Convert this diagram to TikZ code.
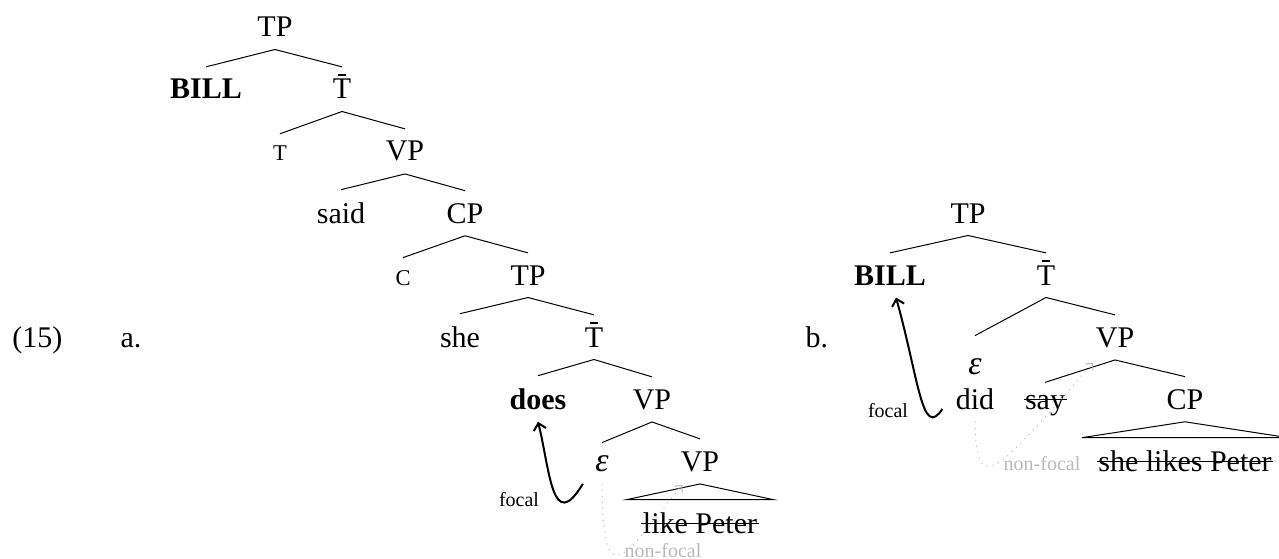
\documentclass[tikz,border=0pt]{standalone}
\usepackage{fontspec}
\setmainfont{Liberation Serif}
\usetikzlibrary{calc,arrows.meta}
\newcommand\Tbarsym{\leavevmode\hbox{\ooalign{T\cr\hidewidth\raisebox{0.78em}{\rule{0.27em}{0.045em}}\hidewidth\cr}}}
\newcommand\smc[1]{{\fontsize{9}{10}\selectfont #1}}
\newcommand\epsym{{\fontsize{13.5}{15}\selectfont\itshape ε}}
\begin{document}
\begin{tikzpicture}[x=0.4pt,y=-0.4pt,
  tn/.style={anchor=base, inner xsep=0pt, inner ysep=4.8pt, font=\fontsize{12}{14.4}\selectfont},
  treeline/.style={line width=0.4pt},
  strike/.style={line width=0.4pt},
  focalarrow/.style={line width=0.8pt, -{Straight Barb[length=2.6pt,width=5pt]}},
  nfarrow/.style={gray!55, line width=0.4pt, dotted, -{Straight Barb[length=2pt,width=4pt,line width=0.4pt]}},
  lbl/.style={anchor=base, inner sep=0pt, font=\fontsize{8}{9.6}\selectfont},
  nf/.style={lbl, text=gray!55},
  num/.style={anchor=base west, inner sep=0pt, font=\fontsize{12}{14.4}\selectfont}]
\useasboundingbox (0,0) rectangle (1279,559);

% labels
\node[num] (ex) at (12,347) {(15)};
\node[num] (la) at (120,347) {a.};
\node[num] (lb) at (805,347) {b.};

% left tree
\node[tn] (TPa) at (275,37) {TP};
\node[tn] (BILLa) at (206,99) {\textbf{BILL}};
\node[tn] (Tba) at (342,99) {\Tbarsym};
\node[tn] (Ta) at (280,161) {\smc{T}};
\node[tn] (VPa) at (405,161) {VP};
\node[tn] (said) at (341,223) {said};
\node[tn] (CPa) at (465,223) {CP};
\node[tn] (Ca) at (403,285) {\smc{C}};
\node[tn] (TPb) at (528,285) {TP};
\node[tn] (she) at (460,347) {she};
\node[tn] (Tbb) at (594,347) {\Tbarsym};
\node[tn] (does) at (538,409) {\textbf{does}};
\node[tn] (VPb) at (652,409) {VP};
\node[tn] (epsa) at (602,471) {\epsym};
\node[tn] (VPc) at (700,471) {VP};
\node[tn] (likeP) at (700,533) {like Peter};

\draw[treeline] (TPa.south) -- (BILLa.north);
\draw[treeline] (TPa.south) -- (Tba.north);
\draw[treeline] (Tba.south) -- (Ta.north);
\draw[treeline] (Tba.south) -- (VPa.north);
\draw[treeline] (VPa.south) -- (said.north);
\draw[treeline] (VPa.south) -- (CPa.north);
\draw[treeline] (CPa.south) -- (Ca.north);
\draw[treeline] (CPa.south) -- (TPb.north);
\draw[treeline] (TPb.south) -- (she.north);
\draw[treeline] (TPb.south) -- (Tbb.north);
\draw[treeline] (Tbb.south) -- (does.north);
\draw[treeline] (Tbb.south) -- (VPb.north);
\draw[treeline] (VPb.south) -- (epsa.north);
\draw[treeline] (VPb.south) -- (VPc.north);
\draw[treeline] (VPc.south) -- ($(likeP.north west)+(-16,0)$) -- ($(likeP.north east)+(16,0)$) -- cycle;
\draw[strike] ($(likeP.base west)+(-1,-9.5)$) -- ($(likeP.base east)+(1,-9.5)$);

% right tree
\node[tn] (TPc) at (968,223) {TP};
\node[tn] (BILLb) at (890,285) {\textbf{BILL}};
\node[tn] (Tbc) at (1046,285) {\Tbarsym};
\node[tn] (VPd) at (1115,347) {VP};
\node[tn] (epsb) at (975,374) {\epsym};
\node[tn] (did) at (975,409) {did};
\node[tn] (say) at (1045,409) {say};
\node[tn] (CPb) at (1185,409) {CP};
\node[tn] (sheP) at (1185,471) {she likes Peter};

\draw[treeline] (TPc.south) -- (BILLb.north);
\draw[treeline] (TPc.south) -- (Tbc.north);
\draw[treeline] (Tbc.south) -- ($(epsb.north)+(0,-10)$);
\draw[treeline] (Tbc.south) -- (VPd.north);
\draw[treeline] (VPd.south) -- (say.north);
\draw[treeline] (VPd.south) -- (CPb.north);
\draw[treeline] (CPb.south) -- ($(sheP.north west)+(-16,0)$) -- ($(sheP.north east)+(16,0)$) -- cycle;
\draw[strike] ($(say.base west)+(-1,-9.5)$) -- ($(say.base east)+(1,-9.5)$);
\draw[strike] ($(sheP.base west)+(-1,-9.5)$) -- ($(sheP.base east)+(1,-9.5)$);

% movement arrows, left
\coordinate (fa0) at ($(epsa.south west)+(-12,0)$);
\draw[focalarrow] (fa0) .. controls (552,535) and (550,470) .. (does.south);
\node[lbl] (foca) at (519,506) {focal};
\coordinate (nfa1) at ($(VPc.south)+(-18,1)$);
\draw[nfarrow] (epsa.south) .. controls (603,600) and (625,555) .. (nfa1);
\node[nf] (nfa) at (663,557) {non-focal};

% movement arrows, right
\coordinate (fb0) at ($(did.base west)+(-13,0)$);
\coordinate (fb1) at ($(BILLb.south)+(6,0)$);
\draw[focalarrow] (fb0) .. controls (922,440) and (919,380) .. (fb1);
\node[lbl] (focb) at (888,417) {focal};
\coordinate (nfb1) at ($(VPd.south)+(-22,3)$);
\draw[nfarrow] (did.south) .. controls (976,501) and (998,470) .. (nfb1);
\node[nf] (nfb) at (1042,470) {non-focal};
\end{tikzpicture}
\end{document}
